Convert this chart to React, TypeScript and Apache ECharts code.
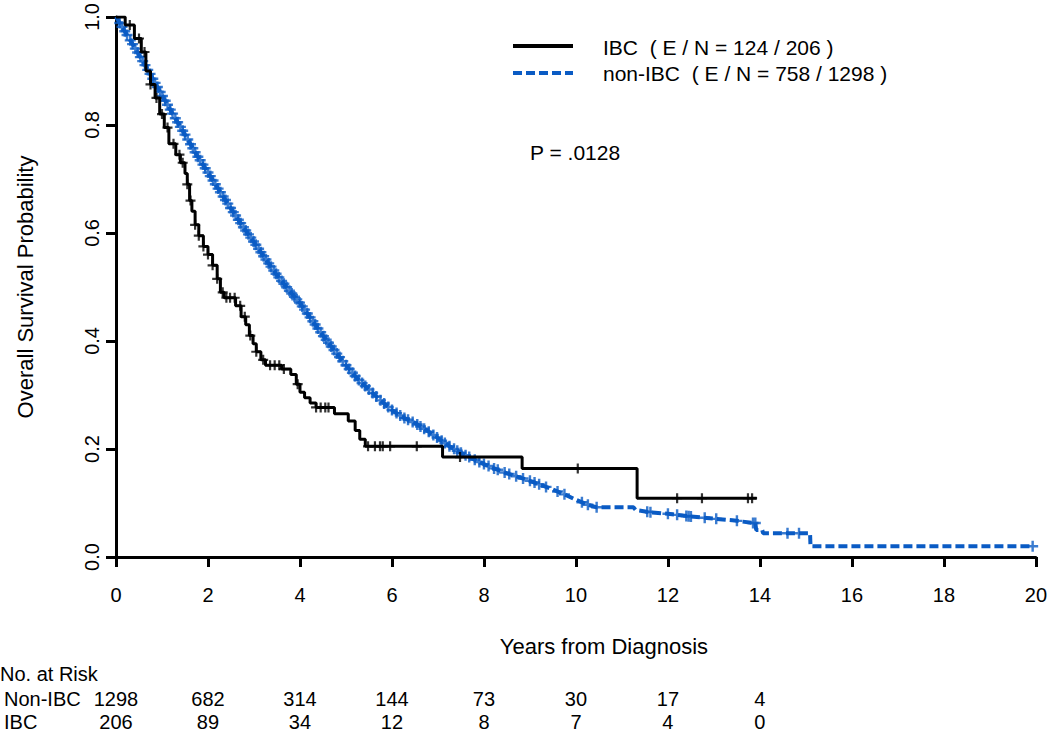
import React, { useEffect, useRef } from "react";
import * as echarts from "echarts";

// IBC Kaplan-Meier curve (step points: time in years, survival)
const IBC_T = [0, 0.2, 0.4, 0.55, 0.65, 0.75, 0.85, 0.95, 1.05, 1.15, 1.3, 1.4, 1.5, 1.55, 1.6, 1.65, 1.72, 1.8, 1.9, 2.0, 2.1, 2.2, 2.27, 2.35, 2.6, 2.72, 2.82, 2.9, 2.98, 3.05, 3.15, 3.25, 3.6, 3.8, 3.92, 4.0, 4.1, 4.22, 4.35, 4.75, 5.05, 5.2, 5.3, 5.42, 7.1, 8.83, 11.33, 13.93];
const IBC_S = [1, 0.985, 0.96, 0.935, 0.9, 0.875, 0.85, 0.82, 0.795, 0.765, 0.745, 0.73, 0.71, 0.69, 0.66, 0.64, 0.615, 0.595, 0.575, 0.56, 0.54, 0.515, 0.49, 0.48, 0.465, 0.445, 0.43, 0.41, 0.395, 0.38, 0.365, 0.355, 0.348, 0.338, 0.32, 0.305, 0.295, 0.285, 0.277, 0.265, 0.252, 0.234, 0.218, 0.205, 0.185, 0.164, 0.109, 0.109];
const IBC_CENSOR = [0.3, 0.5, 0.62, 0.75, 0.88, 1.0, 1.12, 1.25, 1.38, 1.45, 1.55, 1.62, 1.72, 1.8, 1.9, 2.0, 2.1, 2.2, 2.32, 2.4, 2.48, 2.58, 2.7, 2.8, 2.92, 3.05, 3.2, 3.35, 3.45, 3.55, 3.65, 3.95, 4.35, 4.45, 4.55, 4.62, 5.48, 5.63, 5.74, 5.8, 5.96, 6.54, 7.48, 10.04, 12.2, 12.74, 13.74, 13.83];

// non-IBC curve (corners included in the tail)
const NON_T = [0, 0.25, 0.5, 0.75, 1, 1.25, 1.5, 1.75, 2, 2.25, 2.5, 2.75, 3, 3.25, 3.5, 3.75, 4, 4.25, 4.5, 4.75, 5, 5.25, 5.5, 5.75, 6, 6.25, 6.5, 6.75, 7, 7.25, 7.5, 7.75, 8, 8.25, 8.5, 8.75, 9, 9.25, 9.5, 9.75, 10, 10.25, 10.45, 11.25, 11.3, 11.6, 12, 12.5, 13, 13.4, 13.85, 13.9, 13.92, 14.05, 14.07, 15.09, 15.1, 19.93];
const NON_S = [1, 0.965, 0.93, 0.893, 0.855, 0.818, 0.782, 0.745, 0.712, 0.678, 0.645, 0.613, 0.583, 0.552, 0.522, 0.495, 0.47, 0.44, 0.41, 0.382, 0.355, 0.33, 0.31, 0.29, 0.272, 0.258, 0.248, 0.235, 0.22, 0.205, 0.193, 0.182, 0.172, 0.163, 0.155, 0.148, 0.141, 0.133, 0.125, 0.116, 0.106, 0.097, 0.092, 0.092, 0.087, 0.083, 0.08, 0.075, 0.071, 0.068, 0.063, 0.063, 0.05, 0.05, 0.044, 0.044, 0.02, 0.02];
const NON_CENSOR = [0.08, 0.13, 0.19, 0.24, 0.31, 0.36, 0.42, 0.47, 0.53, 0.58, 0.63, 0.69, 0.74, 0.8, 0.85, 0.9, 0.96, 1.01, 1.07, 1.12, 1.18, 1.23, 1.29, 1.34, 1.4, 1.45, 1.5, 1.56, 1.62, 1.67, 1.72, 1.78, 1.83, 1.89, 1.94, 2.0, 2.05, 2.11, 2.16, 2.22, 2.27, 2.33, 2.38, 2.43, 2.49, 2.55, 2.6, 2.66, 2.71, 2.77, 2.82, 2.88, 2.93, 2.99, 3.04, 3.1, 3.15, 3.21, 3.26, 3.32, 3.37, 3.43, 3.48, 3.54, 3.6, 3.65, 3.71, 3.77, 3.82, 3.88, 3.93, 3.99, 4.05, 4.1, 4.16, 4.22, 4.28, 4.33, 4.39, 4.45, 4.51, 4.57, 4.62, 4.68, 4.74, 4.8, 4.86, 4.93, 5.0, 5.07, 5.14, 5.2, 5.28, 5.35, 5.42, 5.5, 5.58, 5.66, 5.75, 5.83, 5.92, 6.0, 6.1, 6.18, 6.27, 6.35, 6.45, 6.55, 6.62, 6.7, 6.8, 6.9, 6.98, 7.08, 7.15, 7.25, 7.35, 7.42, 7.5, 7.6, 7.68, 7.8, 7.9, 8.0, 8.1, 8.22, 8.3, 8.45, 8.55, 8.7, 8.85, 9.0, 9.1, 9.2, 9.35, 9.6, 9.75, 10.13, 10.26, 10.45, 11.55, 11.62, 12.0, 12.2, 12.4, 12.45, 12.5, 12.8, 13.05, 13.5, 13.85, 13.9, 14.6, 14.85, 19.93];

const RISK_TIMES = [0, 2, 4, 6, 8, 10, 12, 14];
const RISK_NON_IBC = [1298, 682, 314, 144, 73, 30, 17, 4];
const RISK_IBC = [206, 89, 34, 12, 8, 7, 4, 0];

const LEGEND_IBC = "IBC  ( E / N = 124 / 206 )";
const LEGEND_NON = "non-IBC  ( E / N = 758 / 1298 )";
const P_TEXT = "P = .0128";

const BLUE = "#0a5bc4";
const FONT = "'Liberation Sans', Arial, sans-serif";
const PLUS = "path://M-0.22,-1L0.22,-1L0.22,-0.22L1,-0.22L1,0.22L0.22,0.22L0.22,1L-0.22,1L-0.22,0.22L-1,0.22L-1,-0.22L-0.22,-0.22Z";

function survStep(ts: number[], ss: number[], t: number) {
  let s = ss[0];
  for (let i = 0; i < ts.length; i++) if (ts[i] <= t) s = ss[i];
  return s;
}
function survLinear(ts: number[], ss: number[], t: number) {
  for (let i = 1; i < ts.length; i++) {
    if (t <= ts[i]) {
      const f = (t - ts[i - 1]) / (ts[i] - ts[i - 1] || 1);
      return ss[i - 1] + f * (ss[i] - ss[i - 1]);
    }
  }
  return ss[ss.length - 1];
}

export default function App() {
  const ref = useRef<HTMLDivElement>(null);
  useEffect(() => {
    const chart = echarts.init(ref.current!, null, { renderer: "svg" });
    const option: any = {
      animation: false,
      backgroundColor: "#ffffff",
      textStyle: { fontFamily: FONT },
      grid: { left: 116, right: 13, top: 14, bottom: 178, containLabel: false },
      xAxis: {
        type: "value",
        min: 0,
        max: 20,
        interval: 2,
        name: "Years from Diagnosis",
        nameLocation: "middle",
        nameGap: 78,
        nameTextStyle: { fontFamily: FONT, fontSize: 22, color: "#000", padding: [0, 0, 0, 56] },
        axisLine: { lineStyle: { color: "#000", width: 3 } },
        axisTick: { show: true, length: 10, lineStyle: { color: "#000", width: 3 } },
        axisLabel: { color: "#000", fontSize: 20, fontFamily: FONT, margin: 28 },
        splitLine: { show: false },
      },
      yAxis: {
        type: "value",
        min: 0,
        max: 1,
        interval: 0.2,
        name: "Overall Survival Probability",
        nameLocation: "middle",
        nameRotate: 90,
        nameGap: 80,
        nameTextStyle: { fontFamily: FONT, fontSize: 22, color: "#000" },
        axisLine: { show: true, lineStyle: { color: "#000", width: 3 } },
        axisTick: { show: true, length: 10, lineStyle: { color: "#000", width: 3 } },
        axisLabel: { color: "#000", fontSize: 20, fontFamily: FONT, rotate: 90, margin: 14, formatter: (v: number) => v.toFixed(1) },
        splitLine: { show: false },
      },
      series: [
        {
          name: "non-IBC",
          type: "line",
          symbol: "none",
          data: NON_T.map((t, i) => [t, NON_S[i]]),
          lineStyle: { color: BLUE, width: 4, type: [9, 4] },
          z: 2,
        },
        {
          name: "non-IBC censored",
          type: "scatter",
          symbol: PLUS,
          symbolSize: 11,
          itemStyle: { color: BLUE },
          data: NON_CENSOR.map((t) => [t, survLinear(NON_T, NON_S, t)]),
          z: 3,
        },
        {
          name: "IBC",
          type: "line",
          step: "end",
          symbol: "none",
          data: IBC_T.map((t, i) => [t, IBC_S[i]]),
          lineStyle: { color: "#000", width: 3 },
          z: 4,
        },
        {
          name: "IBC censored",
          type: "scatter",
          symbol: PLUS,
          symbolSize: 10,
          itemStyle: { color: "#000" },
          data: IBC_CENSOR.map((t) => [t, survStep(IBC_T, IBC_S, t)]),
          z: 5,
        },
      ],
    };
    chart.setOption(option);

    const txt = (text: string, x: number, y: number, size: number, align = "left") => ({
      type: "text",
      x,
      y,
      style: { text, fill: "#000", font: `${size}px ${FONT}`, align, verticalAlign: "middle" },
    });
    const graphic: any[] = [
      { type: "line", shape: { x1: 513, y1: 46, x2: 573, y2: 46 }, style: { stroke: "#000", lineWidth: 4 } },
      { type: "line", shape: { x1: 513, y1: 73, x2: 573, y2: 73 }, style: { stroke: BLUE, lineWidth: 4, lineDash: [9, 4] } },
      txt(LEGEND_IBC, 603, 47, 21),
      txt(LEGEND_NON, 603, 73, 21),
      txt(P_TEXT, 530, 152, 21),
      txt("No. at Risk", 0, 674, 20),
      txt("Non-IBC", 4, 699, 20),
      txt("IBC", 4, 722, 20),
    ];
    RISK_TIMES.forEach((t, i) => {
      const px = chart.convertToPixel({ xAxisIndex: 0 }, t) as number;
      graphic.push(txt(String(RISK_NON_IBC[i]), px, 699, 20, "center"));
      graphic.push(txt(String(RISK_IBC[i]), px, 722, 20, "center"));
    });
    chart.setOption({ graphic });
    return () => chart.dispose();
  }, []);
  return <div ref={ref} style={{ position: "absolute", left: 0, top: 0, width: 1050, height: 735, background: "#fff" }} />;
}
